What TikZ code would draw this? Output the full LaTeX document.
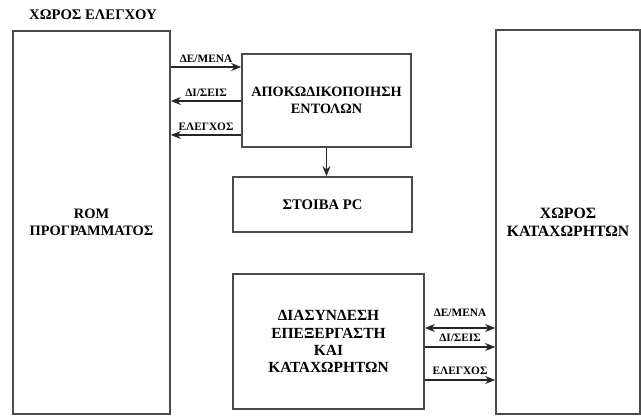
\documentclass[tikz,border=0pt]{standalone}
\usepackage{fontspec}
\setmainfont{Liberation Serif}
\usetikzlibrary{arrows.meta, positioning}
\definecolor{frame}{HTML}{4A4A4A}

\begin{document}
\begin{tikzpicture}[x=0.75pt, y=-0.75pt, >={Stealth[length=7.5pt, width=6pt]},
    blk/.style={draw=frame, line width=1.3pt, align=center, inner sep=0pt,
      font=\bfseries\fontsize{10.7}{12.5}\selectfont},
    bus/.style={draw=black!85, line width=1.1pt},
    lbl/.style={font=\bfseries\fontsize{8.5}{10}\selectfont, inner sep=1pt}]
  \useasboundingbox (0,0) rectangle (641,416);

  % Χώρος ελέγχου
  \node[font=\bfseries\fontsize{11}{13}\selectfont] (title) at (93,15) {ΧΩΡΟΣ ΕΛΕΓΧΟΥ};
  \node[blk, minimum width=117.75pt, minimum height=287.25pt,
    font=\bfseries\fontsize{10.8}{12.5}\selectfont] (rom) at (91.5,222.5) {ROM\\ΠΡΟΓΡΑΜΜΑΤΟΣ};
  \node[blk, minimum width=126.75pt, minimum height=69.75pt] (dec) at (326.5,100.5)
    {ΑΠΟΚΩΔΙΚΟΠΟΙΗΣΗ\\ΕΝΤΟΛΩΝ};
  \node[blk, minimum width=134.25pt, minimum height=41.25pt,
    font=\bfseries\fontsize{11}{13}\selectfont] (stk) at (322.5,204.5) {ΣΤΟΙΒΑ PC};

  \draw[bus, ->] (rom.east |- 0,67) -- (dec.west |- 0,67) node[lbl, midway, above=2pt] {ΔΕ/ΜΕΝΑ};
  \draw[bus, ->] (dec.west |- 0,101) -- (rom.east |- 0,101) node[lbl, midway, above=2pt] {ΔΙ/ΣΕΙΣ};
  \draw[bus, ->] (dec.west |- 0,135) -- (rom.east |- 0,135) node[lbl, midway, above=2pt] {ΕΛΕΓΧΟΣ};
  \draw[bus, ->] (dec.south) -- (dec.south |- stk.north);

  % Χώρος καταχωρητών
  \node[blk, minimum width=108pt, minimum height=288pt,
    font=\bfseries\fontsize{11.8}{13.5}\selectfont] (reg) at (568,222) {ΧΩΡΟΣ\\ΚΑΤΑΧΩΡΗΤΩΝ};
  \node[blk, minimum width=143.25pt, minimum height=101.25pt,
    font=\bfseries\fontsize{11.6}{12.9}\selectfont] (ifc) at (328.5,341.5)
    {ΔΙΑΣΥΝΔΕΣΗ\\ΕΠΕΞΕΡΓΑΣΤΗ\\ΚΑΙ\\ΚΑΤΑΧΩΡΗΤΩΝ};

  \draw[bus, <->] (ifc.east |- 0,328) -- (reg.west |- 0,328) node[lbl, midway, above=7pt] {ΔΕ/ΜΕΝΑ};
  \draw[bus, ->] (ifc.east |- 0,347) -- (reg.west |- 0,347) node[lbl, midway, above=2.5pt] {ΔΙ/ΣΕΙΣ};
  \draw[bus, ->] (ifc.east |- 0,380) -- (reg.west |- 0,380) node[lbl, midway, above=2.5pt] {ΕΛΕΓΧΟΣ};
\end{tikzpicture}
\end{document}
